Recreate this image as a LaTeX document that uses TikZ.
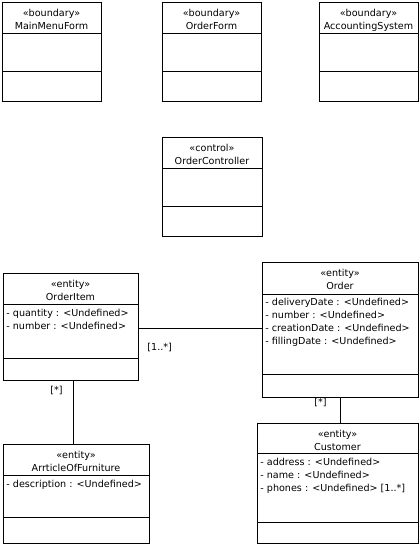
\documentclass[tikz,border=0pt]{standalone}
\usepackage{fontspec}
\setmainfont{DejaVu Sans}
\usetikzlibrary{positioning}

\begin{document}
\begin{tikzpicture}[x=1pt, y=-1pt, line width=0.8pt,
    classbox/.style={draw, anchor=north west, inner sep=0pt, outer sep=0pt},
    umltext/.style={inner sep=0pt, font=\fontsize{9.6}{13}\selectfont},
    attrs/.style={umltext, anchor=north west, align=left}]
    \useasboundingbox (0,0) rectangle (420,547);

    % boundary and control classes
    \node[classbox, minimum width=99pt, minimum height=99pt] (mainmenu) at (2,2) {};
    \node[classbox, minimum width=99pt, minimum height=99pt] (orderform) at (162,2) {};
    \node[classbox, minimum width=99pt, minimum height=99pt] (accounting) at (319,2) {};
    \node[classbox, minimum width=100pt, minimum height=99pt] (controller) at (162,137) {};

    % entity classes
    \node[classbox, minimum width=135pt, minimum height=107pt] (orderitem) at (3,273) {};
    \node[classbox, minimum width=156pt, minimum height=135pt] (order) at (262,262) {};
    \node[classbox, minimum width=146pt, minimum height=99pt] (article) at (3,444) {};
    \node[classbox, minimum width=161pt, minimum height=120pt] (customer) at (257,423) {};

    \foreach \c/\a/\b in {mainmenu/31/69, orderform/31/69, accounting/31/69,
      controller/31/69, orderitem/31/85, order/32/112, article/31/73, customer/30/99}
    {\draw ([yshift=-\a pt]\c.north west) -- ([yshift=-\a pt]\c.north east);
     \draw ([yshift=-\b pt]\c.north west) -- ([yshift=-\b pt]\c.north east);
    }

    \foreach \c/\s/\t in {mainmenu/boundary/MainMenuForm, orderform/boundary/OrderForm,
      accounting/boundary/AccountingSystem, controller/control/OrderController,
      orderitem/entity/OrderItem, order/entity/Order,
      article/entity/ArrticleOfFurniture, customer/entity/Customer}
    {\node[umltext, anchor=base] (\c-st) at ([yshift=-14pt]\c.north) {«\s»};
     \node[umltext, anchor=base] (\c-name) at ([yshift=-27.5pt]\c.north) {\t};
    }

    % attributes
    \node[attrs] (orderitem-attr) at ([xshift=3pt, yshift=-36pt]orderitem.north west)
      {- quantity : <Undefined>\\- number : <Undefined>};
    \node[attrs] (order-attr) at ([xshift=3pt, yshift=-36pt]order.north west)
      {- deliveryDate : <Undefined>\\- number : <Undefined>\\
       - creationDate : <Undefined>\\- fillingDate : <Undefined>};
    \node[attrs] (article-attr) at ([xshift=3pt, yshift=-36pt]article.north west)
      {- description : <Undefined>};
    \node[attrs] (customer-attr) at ([xshift=3pt, yshift=-35pt]customer.north west)
      {- address : <Undefined>\\- name : <Undefined>\\- phones : <Undefined> [1..*]};

    % associations
    \draw ([yshift=-1.5pt]orderitem.east) -- ([yshift=-1.5pt]orderitem.east -| order.west)
      node[umltext, pos=0, anchor=north west, xshift=9pt, yshift=-15pt] (mult-order) {[1..*]};
    \draw ([xshift=2.5pt]orderitem.south) -- ([xshift=2.5pt]orderitem.south |- article.north)
      node[umltext, pos=0, anchor=north east, xshift=-10pt, yshift=-6pt] (mult-article) {[*]};
    \draw (order.south) -- (order.south |- customer.north)
      node[umltext, pos=0, anchor=north east, xshift=-13pt, yshift=-1pt] (mult-customer) {[*]};
\end{tikzpicture}
\end{document}
